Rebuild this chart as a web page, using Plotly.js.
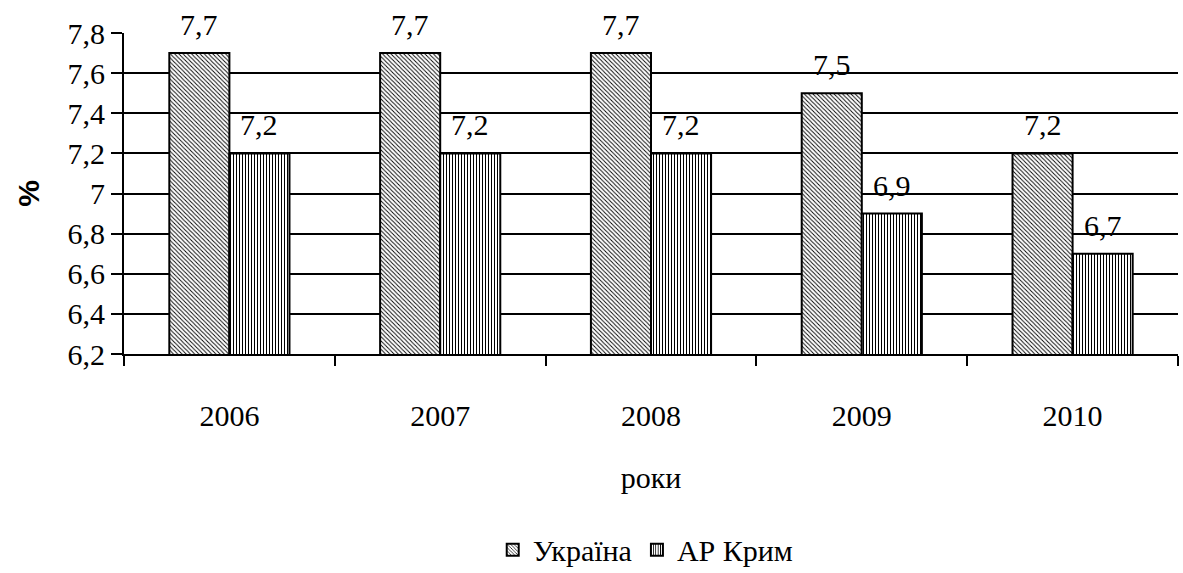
<!DOCTYPE html>
<html>
<head>
<meta charset="utf-8">
<script src="https://cdn.plot.ly/plotly-3.0.1.min.js"></script>
<style>
html,body{margin:0;padding:0;background:#fff;}
#chart{width:1183px;height:573px;}
</style>
</head>
<body>
<div id="chart"></div>
<script>
var years = ['2006', '2007', '2008', '2009', '2010'];
var ukraine = [7.7, 7.7, 7.7, 7.5, 7.2];
var crimea = [7.2, 7.2, 7.2, 6.9, 6.7];
var seriesNames = ['Україна', 'АР Крим'];
var yTicks = [6.2, 6.4, 6.6, 6.8, 7.0, 7.2, 7.4, 7.6, 7.8];

var SERIF = 'Liberation Serif';
var bargap = 0.43;

function fmt(v) { return String(v).replace('.', ','); }

var traces = [
  {
    type: 'bar', name: seriesNames[0], x: years, y: ukraine,
    marker: {color: '#ffffff', line: {color: '#000', width: 2},
      pattern: {shape: '\\', fgcolor: '#000', bgcolor: '#fff', size: 3, solidity: 0.3}},
    hoverinfo: 'skip'
  },
  {
    type: 'bar', name: seriesNames[1], x: years, y: crimea,
    marker: {color: '#ffffff', line: {color: '#000', width: 2},
      pattern: {shape: '|', fgcolor: '#000', bgcolor: '#fff', size: 3, solidity: 0.35}},
    hoverinfo: 'skip'
  }
];

var w = (1 - bargap) / 2;
var annotations = [];
[ukraine, crimea].forEach(function (vals, s) {
  vals.forEach(function (v, i) {
    annotations.push({
      x: i + (s === 0 ? -w / 2 : w / 2), y: v, xref: 'x', yref: 'y',
      text: fmt(v), showarrow: false, yanchor: 'bottom', yshift: 10,
      font: {family: SERIF, size: 30, color: '#000'}
    });
  });
});

var layout = {
  width: 1183, height: 573,
  margin: {l: 124, r: 5, t: 33, b: 204},
  paper_bgcolor: '#fff', plot_bgcolor: '#fff',
  separators: ', ',
  barmode: 'group', bargap: bargap, bargroupgap: 0,
  font: {family: SERIF, size: 30, color: '#000'},
  showlegend: true,
  legend: {orientation: 'h', x: 0.495, xanchor: 'center', y: -0.585, yanchor: 'middle',
    font: {family: SERIF, size: 30, color: '#000'}, itemwidth: 30, traceorder: 'normal'},
  xaxis: {
    type: 'category', showline: true, linecolor: '#000', linewidth: 2,
    ticks: 'outside', tickson: 'boundaries', ticklen: 10, tickwidth: 2, tickcolor: '#000',
    showgrid: false, zeroline: false, ticklabelstandoff: 34,
    tickfont: {family: SERIF, size: 30, color: '#000'},
    title: {text: 'роки', font: {family: SERIF, size: 30, color: '#000'}, standoff: 36}
  },
  yaxis: {
    range: [6.2, 7.8], tickvals: yTicks, ticktext: yTicks.map(fmt),
    showline: true, linecolor: '#000', linewidth: 2,
    ticks: 'outside', ticklen: 11, tickwidth: 2, tickcolor: '#000',
    showgrid: true, gridcolor: '#000', gridwidth: 2, zeroline: false,
    tickfont: {family: SERIF, size: 30, color: '#000'},
    title: {text: '<b>%</b>', font: {family: 'Liberation Sans', size: 30, color: '#000'}, standoff: 19}
  },
  annotations: annotations
};

Plotly.newPlot('chart', traces, layout, {displayModeBar: false}).then(function (gd) {
  // nudge the legend slightly lower (Plotly keeps it inside the paper)
  var lg = gd.querySelector('g.legend');
  if (lg) {
    var t = lg.getAttribute('transform') || '';
    var m = t.match(/translate\(\s*([-\d.]+)[ ,]+([-\d.]+)\s*\)/);
    if (m) lg.setAttribute('transform', 'translate(' + m[1] + ',' + (parseFloat(m[2]) + 8) + ')');
  }
});
</script>
</body>
</html>
